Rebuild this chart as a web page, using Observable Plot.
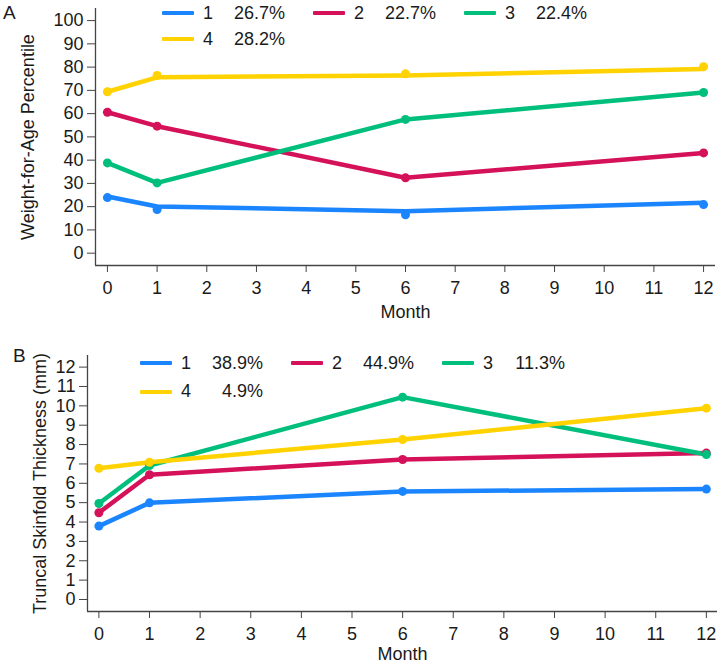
<!DOCTYPE html>
<html>
<head>
<meta charset="utf-8">
<script src="https://cdn.jsdelivr.net/npm/d3@7"></script>
<script src="https://cdn.jsdelivr.net/npm/@observablehq/plot@0.6"></script>
<style>
  body { margin: 0; background: #fff; font-family: "Liberation Sans", Arial, sans-serif; color: #1a1a1a; }
  .panel { position: relative; width: 720px; }
  .plabel { position: absolute; font-size: 19px; line-height: 1; }
  .legend { position: absolute; display: grid; grid-template-columns: repeat(3, 151px); font-size: 18px; }
  .item { position: relative; display: flex; align-items: center; }
  .sw { width: 32px; height: 4px; border-radius: 1px; }
  .grp { margin-left: 9px; }
  .pct { position: absolute; left: 0; width: 123px; text-align: right; }
</style>
</head>
<body>
<div id="root"></div>
<script>
const months = [0, 1, 6, 12];
const groups = ["1", "2", "3", "4"];
const colors = ["#1a85ff", "#d41159", "#00bf7d", "#ffd200"];

// Panel A: Weight-for-age percentile
const pctA = ["26.7%", "22.7%", "22.4%", "28.2%"];
const fitA1 = [24.4, 20.1, 18.0, 21.7];
const fitA2 = [60.6, 54.6, 32.4, 43.1];
const fitA3 = [38.8, 30.2, 57.5, 69.1];
const fitA4 = [69.4, 75.6, 76.4, 79.2];
const obsA1 = [23.9, 18.8, 16.5, 20.9];
const obsA2 = [60.6, 54.6, 32.4, 43.1];
const obsA3 = [38.8, 30.2, 57.5, 69.1];
const obsA4 = [69.4, 76.4, 77.1, 80.2];
const yTicksA = [0, 10, 20, 30, 40, 50, 60, 70, 80, 90, 100];

// Panel B: Truncal skinfold thickness
const pctB = ["38.9%", "44.9%", "11.3%", "4.9%"];
const fitB1 = [3.79, 4.99, 5.58, 5.70];
const fitB2 = [4.48, 6.44, 7.23, 7.56];
const fitB3 = [4.96, 6.92, 10.45, 7.49];
const fitB4 = [6.78, 7.09, 8.26, 9.88];
const yTicksB = [0, 1, 2, 3, 4, 5, 6, 7, 8, 9, 10, 11, 12];
const xTicks = [0, 1, 2, 3, 4, 5, 6, 7, 8, 9, 10, 11, 12];

function table(fits, obs) {
  const rows = [];
  groups.forEach((g, i) => months.forEach((m, j) => rows.push({group: g, month: m, fit: fits[i][j], obs: obs[i][j]})));
  return rows;
}

function panel(cfg) {
  const data = table(cfg.fits, cfg.obs);
  const svg = Plot.plot({
    width: 720, height: cfg.height,
    marginTop: cfg.mt, marginBottom: cfg.mb, marginLeft: cfg.ml, marginRight: cfg.mr,
    style: {fontSize: "18px", fontFamily: "'Liberation Sans', Arial, sans-serif", color: "#1a1a1a", background: "#fff", overflow: "visible"},
    x: {domain: cfg.xDomain, axis: null},
    y: {domain: cfg.yDomain, axis: null},
    color: {domain: groups, range: colors},
    marks: [
      Plot.axisX({ticks: xTicks, tickSize: 7, tickPadding: 9, stroke: "#444", fontSize: 18, label: "Month", labelAnchor: "center", labelArrow: "none", labelOffset: cfg.xLabelOffset, tickFormat: d => String(d)}),
      Plot.axisY({ticks: cfg.yTicks, tickSize: 8, tickPadding: 4, stroke: "#444", fontSize: 18, label: cfg.yLabel, labelAnchor: "center", labelArrow: "none", labelOffset: cfg.yLabelOffset, tickFormat: d => String(d)}),
      Plot.ruleX([cfg.xDomain[0]], {stroke: "#444", strokeWidth: 1.3}),
      Plot.ruleY([cfg.yDomain[0]], {stroke: "#444", strokeWidth: 1.3}),
      Plot.line(data, {x: "month", y: "fit", z: "group", stroke: "group", strokeWidth: 4.5, strokeLinejoin: "round", strokeLinecap: "round"}),
      Plot.dot(data, {x: "month", y: "obs", fill: "group", r: 4.5})
    ]
  });
  const div = document.createElement("div");
  div.className = "panel";
  div.style.height = cfg.height + "px";
  div.appendChild(svg);
  const lab = document.createElement("div");
  lab.className = "plabel";
  lab.textContent = cfg.letter;
  lab.style.left = cfg.letterPos[0] + "px";
  lab.style.top = cfg.letterPos[1] + "px";
  div.appendChild(lab);
  const leg = document.createElement("div");
  leg.className = "legend";
  leg.style.left = cfg.legPos[0] + "px";
  leg.style.top = cfg.legPos[1] + "px";
  leg.style.gridAutoRows = cfg.rowH + "px";
  groups.forEach((g, i) => {
    const it = document.createElement("div");
    it.className = "item";
    it.innerHTML = `<span class="sw" style="background:${colors[i]}"></span><span class="grp">${g}</span><span class="pct">${cfg.pct[i]}</span>`;
    leg.appendChild(it);
  });
  div.appendChild(leg);
  return div;
}

const root = document.getElementById("root");
root.appendChild(panel({
  letter: "A", letterPos: [3, 3],
  height: 330, mt: 8, mb: 65, ml: 95, mr: 5,
  xDomain: [-0.24, 12.24], yDomain: [-5.3, 105.2],
  yTicks: yTicksA, yLabel: "Weight-for-Age Percentile",
  xLabelOffset: 52, yLabelOffset: 74,
  fits: [fitA1, fitA2, fitA3, fitA4], obs: [obsA1, obsA2, obsA3, obsA4],
  pct: pctA, legPos: [162, 0], rowH: 26
}));
root.appendChild(panel({
  letter: "B", letterPos: [13, 16],
  height: 335, mt: 25, mb: 54, ml: 87, mr: 3,
  xDomain: [-0.225, 12.22], yDomain: [-0.62, 12.6],
  yTicks: yTicksB, yLabel: "Truncal Skinfold Thickness (mm)",
  xLabelOffset: 48, yLabelOffset: 54,
  fits: [fitB1, fitB2, fitB3, fitB4], obs: [fitB1, fitB2, fitB3, fitB4],
  pct: pctB, legPos: [140, 19], rowH: 28.5
}));
</script>
</body>
</html>
